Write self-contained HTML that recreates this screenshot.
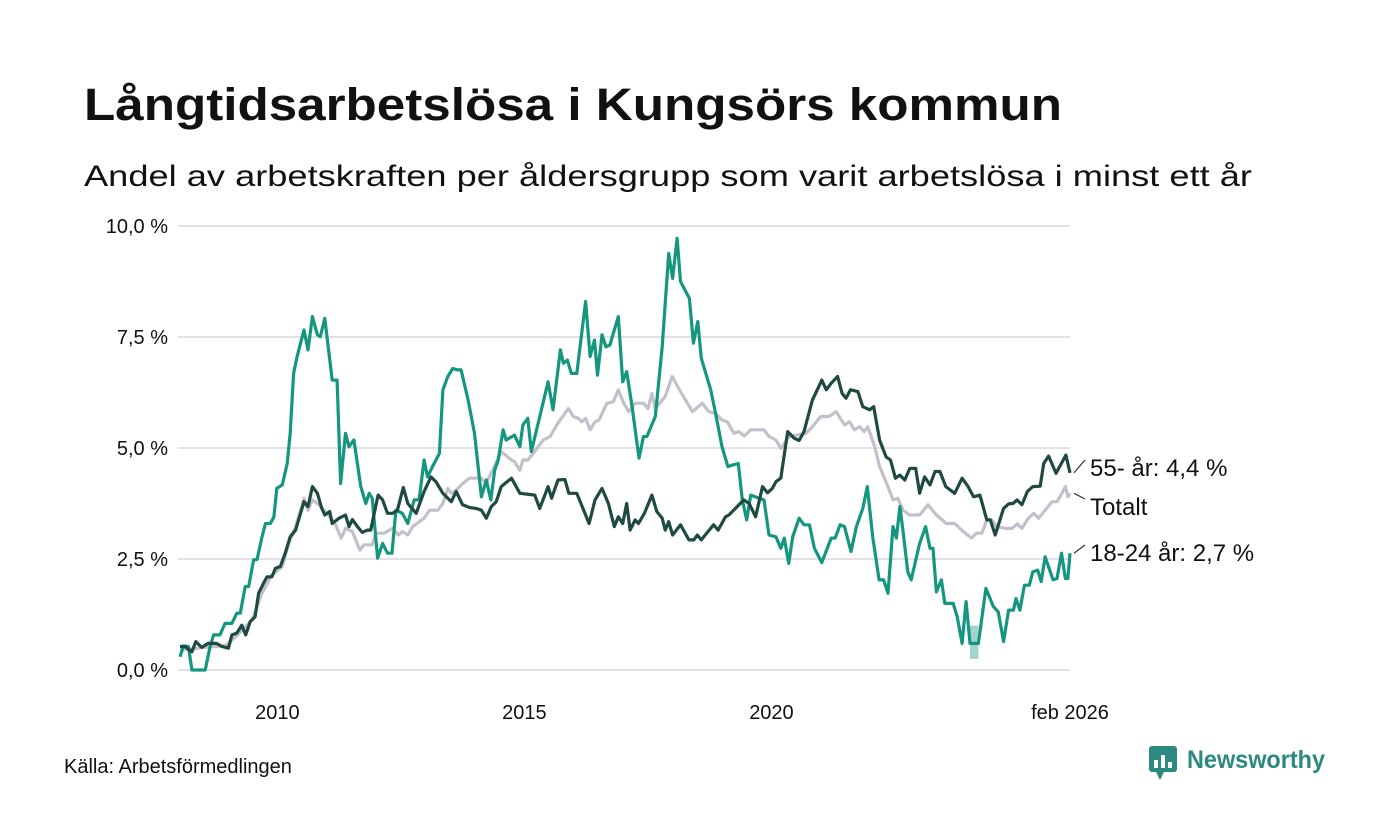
<!DOCTYPE html>
<html><head><meta charset="utf-8"><style>
html,body{margin:0;padding:0;background:#fff;}
svg{display:block;font-family:"Liberation Sans","DejaVu Sans",sans-serif;}
</style></head><body>
<svg id="chart" width="1400" height="840" viewBox="0 0 1400 840" xmlns="http://www.w3.org/2000/svg">
<rect width="1400" height="840" fill="#fff"/>
<text x="84" y="120" font-size="45" font-weight="bold" fill="#111" textLength="978" lengthAdjust="spacingAndGlyphs">Långtidsarbetslösa i Kungsörs kommun</text>
<text x="84" y="186" font-size="30" fill="#111" textLength="1168" lengthAdjust="spacingAndGlyphs">Andel av arbetskraften per åldersgrupp som varit arbetslösa i minst ett år</text>
<g id="grid"></g>
<g id="yticks"></g>
<g id="xticks"></g>
<g id="series"></g>
<g id="labels"></g>
<text x="64" y="773" font-size="20" fill="#111">Källa: Arbetsförmedlingen</text>
<g>
<rect x="1149" y="746" width="28" height="26" rx="3" fill="#2b8a7d"/>
<path d="M1156 772 L1160 780 L1164 772 Z" fill="#2b8a7d"/>
<rect x="1154" y="760" width="4" height="8" fill="#fff"/><rect x="1161" y="755" width="4" height="13" fill="#fff"/><rect x="1168" y="762" width="4" height="6" fill="#fff"/>
<text x="1187" y="768" font-size="25" font-weight="bold" fill="#2b8a7d" textLength="138" lengthAdjust="spacingAndGlyphs">Newsworthy</text>
</g>
</svg>
<script>
const yTicks=[0,2.5,5,7.5,10];
const yTickLabels=["0,0 %","2,5 %","5,0 %","7,5 %","10,0 %"];
const xTicks=[2010,2015,2020,2026.083];
const xTickLabels=["2010","2015","2020","feb 2026"];
const youthT=[2008.07,2008.14,2008.24,2008.31,2008.58,2008.68,2008.75,2008.88,2008.98,2009.12,2009.22,2009.29,2009.39,2009.46,2009.56,2009.63,2009.73,2009.8,2009.9,2009.97,2010.03,2010.14,2010.24,2010.3,2010.37,2010.44,2010.58,2010.66,2010.75,2010.85,2010.91,2011.0,2011.15,2011.25,2011.32,2011.42,2011.49,2011.59,2011.73,2011.83,2011.9,2011.96,2012.07,2012.17,2012.27,2012.36,2012.44,2012.57,2012.68,2012.81,2012.91,2013.01,2013.08,2013.18,2013.32,2013.39,2013.49,2013.59,2013.69,2013.76,2013.9,2014.03,2014.17,2014.27,2014.36,2014.44,2014.51,2014.61,2014.67,2014.84,2014.95,2015.01,2015.11,2015.18,2015.32,2015.52,2015.62,2015.77,2015.83,2015.91,2015.99,2016.1,2016.28,2016.37,2016.46,2016.52,2016.61,2016.69,2016.77,2016.94,2017.03,2017.11,2017.22,2017.36,2017.45,2017.52,2017.69,2017.83,2017.96,2018.04,2018.13,2018.2,2018.38,2018.46,2018.55,2018.62,2018.81,2018.91,2019.04,2019.16,2019.26,2019.37,2019.45,2019.54,2019.62,2019.79,2019.89,2019.99,2020.13,2020.23,2020.3,2020.39,2020.47,2020.6,2020.7,2020.81,2020.91,2021.06,2021.25,2021.33,2021.43,2021.52,2021.65,2021.76,2021.89,2021.98,2022.09,2022.22,2022.31,2022.4,2022.5,2022.57,2022.64,2022.7,2022.8,2022.87,2023.04,2023.16,2023.25,2023.31,2023.38,2023.48,2023.55,2023.72,2023.8,2023.9,2023.98,2024.06,2024.23,2024.38,2024.53,2024.63,2024.74,2024.84,2024.94,2024.99,2025.07,2025.16,2025.26,2025.33,2025.43,2025.5,2025.58,2025.74,2025.82,2025.91,2025.99,2026.04,2026.083];
const youthV=[0.3,0.54,0.53,0,0,0.53,0.79,0.79,1.05,1.05,1.28,1.28,1.88,1.88,2.48,2.49,3.0,3.3,3.3,3.45,4.09,4.17,4.65,5.33,6.68,7.06,7.66,7.21,7.96,7.55,7.51,7.92,6.53,6.53,4.2,5.33,5.03,5.18,4.13,3.75,3.98,3.87,2.52,2.85,2.63,2.63,3.6,3.53,3.3,3.83,3.83,4.73,4.35,4.58,4.88,6.31,6.61,6.79,6.76,6.76,6.08,5.33,3.9,4.28,3.83,4.5,4.73,5.41,5.18,5.29,5.03,5.52,5.67,4.92,5.56,6.49,5.86,7.21,6.91,6.98,6.68,6.68,8.3,7.06,7.43,6.64,7.55,7.28,7.32,7.96,6.49,6.72,5.93,4.77,5.26,5.26,5.71,7.28,9.38,8.82,9.72,8.75,8.37,7.36,7.85,7.02,6.31,5.78,5.03,4.58,4.62,4.65,3.83,3.38,3.94,3.87,3.83,3.04,3.0,2.74,2.97,2.4,3.0,3.42,3.27,3.27,2.74,2.42,2.97,2.97,3.27,3.23,2.67,3.23,3.64,4.13,3.0,2.03,2.03,1.73,3.23,2.97,3.68,3.15,2.21,2.03,2.85,3.23,2.74,2.74,1.76,2.03,1.5,1.5,1.2,0.6,1.54,0.6,0.6,1.84,1.43,1.31,0.64,1.35,1.35,1.61,1.35,1.91,1.91,2.21,2.25,1.99,2.55,2.03,2.06,2.63,2.06,2.06,2.63];
const bandT=[2024.06,2024.23];
const bandLo=[0.25,0.25];
const bandHi=[1.0,1.0];
const oldT=[2008.07,2008.17,2008.31,2008.39,2008.51,2008.64,2008.81,2008.92,2009.05,2009.12,2009.22,2009.32,2009.4,2009.49,2009.59,2009.66,2009.76,2009.83,2009.93,2010.0,2010.1,2010.2,2010.3,2010.41,2010.58,2010.66,2010.75,2010.85,2010.94,2011.0,2011.1,2011.15,2011.29,2011.42,2011.49,2011.56,2011.66,2011.76,2011.86,2011.93,2012.08,2012.17,2012.27,2012.37,2012.47,2012.59,2012.68,2012.85,2013.01,2013.15,2013.25,2013.39,2013.56,2013.66,2013.79,2013.93,2014.06,2014.17,2014.27,2014.37,2014.47,2014.57,2014.78,2014.95,2015.25,2015.35,2015.52,2015.59,2015.72,2015.86,2015.94,2016.1,2016.35,2016.47,2016.61,2016.74,2016.86,2016.94,2017.03,2017.11,2017.18,2017.28,2017.35,2017.47,2017.62,2017.72,2017.83,2017.89,2017.96,2018.04,2018.2,2018.37,2018.47,2018.54,2018.62,2018.87,2018.96,2019.11,2019.18,2019.48,2019.59,2019.72,2019.86,2019.96,2020.06,2020.13,2020.23,2020.37,2020.5,2020.6,2020.7,2020.87,2020.98,2021.06,2021.15,2021.25,2021.38,2021.47,2021.55,2021.64,2021.79,2021.89,2022.03,2022.11,2022.23,2022.36,2022.45,2022.55,2022.64,2022.74,2022.84,2022.96,2023.04,2023.14,2023.25,2023.35,2023.45,2023.57,2023.75,2023.9,2024.02,2024.13,2024.26,2024.4,2024.47,2024.57,2024.74,2024.84,2024.93,2025.01,2025.11,2025.22,2025.33,2025.48,2025.55,2025.65,2025.8,2026.0,2026.083];
const oldV=[0.53,0.53,0.41,0.64,0.51,0.6,0.6,0.53,0.49,0.79,0.83,1.01,0.79,1.09,1.2,1.73,1.95,2.1,2.1,2.29,2.33,2.63,3.0,3.15,3.79,3.68,4.13,3.98,3.64,3.49,3.57,3.3,3.42,3.49,3.23,3.39,3.23,3.1,3.15,3.15,3.94,3.83,3.53,3.53,3.6,4.11,3.75,3.53,4.02,4.35,4.24,3.98,3.79,4.02,3.72,3.66,3.64,3.6,3.42,3.68,3.79,4.13,4.32,3.98,3.94,3.64,4.13,3.87,4.28,4.29,3.98,3.98,3.3,3.83,4.09,3.75,3.23,3.45,3.3,3.75,3.15,3.38,3.3,3.53,3.94,3.57,3.42,3.15,3.34,3.04,3.27,2.93,2.93,3.04,2.93,3.27,3.15,3.45,3.49,3.83,3.75,3.45,4.13,3.99,4.09,4.24,4.32,5.37,5.22,5.17,5.37,6.08,6.34,6.53,6.31,6.46,6.61,6.23,6.12,6.31,6.27,5.93,5.86,5.93,5.18,4.8,4.73,4.32,4.39,4.28,4.54,4.54,3.98,4.35,4.17,4.47,4.47,4.13,3.98,4.32,4.13,3.9,3.94,3.38,3.38,3.04,3.64,3.74,3.75,3.83,3.72,4.02,4.13,4.14,4.65,4.82,4.43,4.84,4.44];
const totT=[2008.07,2008.5,2009.0,2009.2,2009.53,2009.73,2009.93,2010.14,2010.27,2010.41,2010.58,2010.66,2010.75,2010.88,2011.05,2011.22,2011.33,2011.42,2011.56,2011.71,2011.79,2011.96,2012.03,2012.2,2012.37,2012.49,2012.57,2012.68,2012.78,2013.01,2013.12,2013.29,2013.39,2013.49,2013.56,2013.66,2013.79,2013.93,2014.17,2014.27,2014.57,2014.78,2014.84,2014.95,2015.01,2015.11,2015.22,2015.42,2015.56,2015.72,2015.93,2016.03,2016.13,2016.2,2016.28,2016.37,2016.47,2016.55,2016.71,2016.84,2016.94,2017.05,2017.15,2017.28,2017.45,2017.54,2017.62,2017.69,2017.89,2018.03,2018.2,2018.3,2018.44,2018.64,2018.77,2018.91,2019.04,2019.15,2019.28,2019.38,2019.49,2019.62,2019.89,2019.99,2020.13,2020.23,2020.4,2020.74,2020.87,2021.04,2021.21,2021.35,2021.52,2021.62,2021.72,2021.82,2021.92,2021.99,2022.13,2022.23,2022.4,2022.5,2022.6,2022.7,2022.84,2023.04,2023.21,2023.38,2023.58,2023.75,2023.92,2024.09,2024.19,2024.3,2024.4,2024.5,2024.6,2024.77,2024.91,2025.02,2025.11,2025.24,2025.35,2025.45,2025.58,2025.72,2025.82,2025.92,2025.99,2026.04,2026.083];
const totV=[0.45,0.5,0.55,0.75,1.13,1.73,2.14,2.33,2.85,3.23,3.87,3.6,3.83,3.72,3.53,3.27,2.97,3.19,3.12,2.7,2.82,2.82,3.08,3.08,3.19,3.04,3.12,3.04,3.23,3.42,3.6,3.6,3.75,4.09,3.98,4.05,4.2,4.32,4.32,4.2,4.92,4.73,4.69,4.5,4.73,4.73,4.88,5.18,5.26,5.56,5.89,5.71,5.67,5.59,5.67,5.41,5.59,5.63,6.01,6.04,6.31,6.01,5.82,6.01,6.01,5.89,6.23,5.89,6.16,6.61,6.27,6.08,5.82,6.01,5.82,5.78,5.63,5.59,5.33,5.37,5.27,5.41,5.41,5.26,5.18,4.99,5.26,5.33,5.48,5.71,5.71,5.82,5.52,5.59,5.41,5.48,5.37,5.48,5.03,4.58,4.13,3.83,3.87,3.6,3.49,3.49,3.72,3.49,3.3,3.3,3.12,2.97,3.08,3.08,3.38,3.38,3.23,3.19,3.19,3.29,3.19,3.42,3.53,3.42,3.6,3.79,3.79,3.98,4.13,3.9,3.98];

const NS="http://www.w3.org/2000/svg";
const X0=180,X1=1070,T0=2008.07,T1=2026.083,Y0=670,Y1=226;
function sx(t){return X0+(t-T0)/(T1-T0)*(X1-X0);}
function sy(v){return Y0+(v-0)/(10-0)*(Y1-Y0);}
function mk(tag,attrs,parent){const e=document.createElementNS(NS,tag);for(const k in attrs)e.setAttribute(k,attrs[k]);parent.appendChild(e);return e;}
const grid=document.getElementById('grid'),yt=document.getElementById('yticks'),xt=document.getElementById('xticks'),ser=document.getElementById('series'),lab=document.getElementById('labels');
yTicks.forEach((v,i)=>{
  const l=mk('line',{x1:178,x2:1070,y1:sy(v),y2:sy(v),stroke:'#e2e1e6','stroke-width':2},grid);
  
  
  const t=mk('text',{x:168,y:sy(v)+7,'text-anchor':'end','font-size':20,fill:'#111'},yt);
  t.textContent=yTickLabels[i];
  
  
});
xTicks.forEach((v,i)=>{
  const t=mk('text',{x:i==3?sx(v):2+sx(v),y:719,'text-anchor':'middle','font-size':20,fill:'#111'},xt);
  t.textContent=xTickLabels[i];
  
  
});
function path(T,V){return T.map((t,i)=>(i?'L':'M')+sx(t).toFixed(1)+' '+sy(V[i]).toFixed(1)).join(' ');}
let bd='M'+bandT.map((t,i)=>sx(t).toFixed(1)+' '+sy(bandHi[i]).toFixed(1)).join(' L');
for(let i=bandT.length-1;i>=0;i--)bd+=' L'+sx(bandT[i]).toFixed(1)+' '+sy(bandLo[i]).toFixed(1);
const band=mk('path',{d:bd+'Z',fill:'#14967f','fill-opacity':0.4},ser);


const pt=mk('path',{d:path(totT,totV),fill:'none',stroke:'#c3c0cc','stroke-width':3.2,'stroke-linejoin':'round'},ser);


const py=mk('path',{d:path(youthT,youthV),fill:'none',stroke:'#14967f','stroke-width':3.2,'stroke-linejoin':'round'},ser);


const po=mk('path',{d:path(oldT,oldV),fill:'none',stroke:'#1f4a42','stroke-width':3.2,'stroke-linejoin':'round'},ser);


const endLabels=[["55- år: 4,4 %",oldV[oldV.length-1],468],["Totalt",totV[totV.length-1],507],["18-24 år: 2,7 %",youthV[youthV.length-1],553]];
endLabels.forEach(e=>{
  const yv=sy(e[1]);
  mk('line',{x1:1074,y1:yv,x2:1085,y2:e[2]-8,stroke:'#333','stroke-width':1.2},lab);
  const t=mk('text',{x:1090,y:e[2]+8,'font-size':24,fill:'#111'},lab);
  t.textContent=e[0];
  
  
});
</script>
</body></html>
